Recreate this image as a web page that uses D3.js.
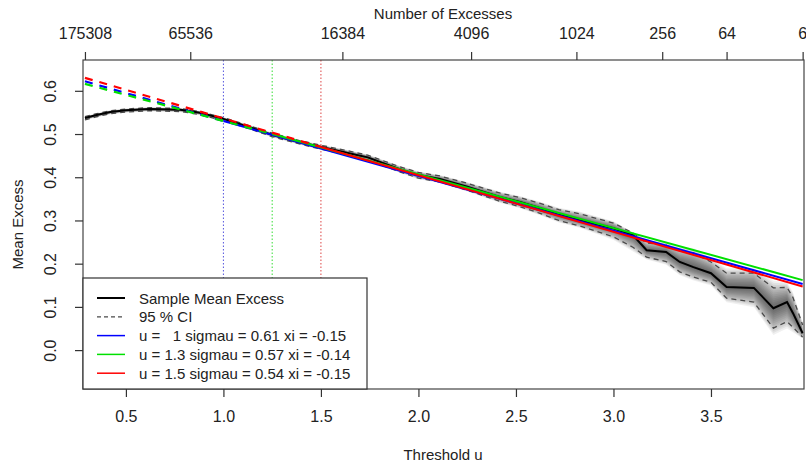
<!DOCTYPE html>
<html>
<head>
<meta charset="utf-8">
<script src="https://cdn.jsdelivr.net/npm/d3@7"></script>
<style>
  body { margin: 0; background: #fff; }
  text { font-family: "Liberation Sans", Arial, sans-serif; fill: #222; }
</style>
</head>
<body>
<script>
var svg_width = 806;
var svg_height = 468;

// threshold grid with sample mean excess and 95% CI
var thresholds = [0.29, 0.35, 0.42, 0.50, 0.62, 0.78, 0.88, 1.00, 1.12, 1.25, 1.39, 1.50, 1.62, 1.74, 1.90, 2.00, 2.11, 2.25, 2.42, 2.52, 2.62, 2.72, 2.83, 3.00, 3.10, 3.17, 3.27, 3.34, 3.41, 3.50, 3.58, 3.72, 3.82, 3.89, 3.92, 3.97];
var meanExcess = [0.537, 0.544, 0.551, 0.555, 0.558, 0.556, 0.549, 0.535, 0.518, 0.498, 0.481, 0.470, 0.458, 0.446, 0.419, 0.405, 0.396, 0.378, 0.354, 0.343, 0.329, 0.313, 0.300, 0.282, 0.266, 0.231, 0.227, 0.204, 0.192, 0.178, 0.146, 0.144, 0.097, 0.111, 0.086, 0.039];
var ciLower = [0.533, 0.540, 0.547, 0.551, 0.554, 0.552, 0.545, 0.531, 0.514, 0.494, 0.477, 0.465, 0.453, 0.440, 0.413, 0.398, 0.389, 0.370, 0.344, 0.332, 0.317, 0.300, 0.287, 0.262, 0.238, 0.215, 0.205, 0.181, 0.169, 0.157, 0.120, 0.111, 0.051, 0.066, 0.053, 0.030];
var ciUpper = [0.540, 0.547, 0.554, 0.558, 0.561, 0.559, 0.552, 0.538, 0.521, 0.502, 0.485, 0.474, 0.463, 0.451, 0.425, 0.411, 0.403, 0.386, 0.363, 0.353, 0.340, 0.325, 0.315, 0.294, 0.271, 0.248, 0.243, 0.229, 0.225, 0.204, 0.178, 0.178, 0.144, 0.145, 0.122, 0.058];

// fitted GPD mean excess lines: [start, threshold, end]
var fitU = [1.0, 1.25, 1.5];
var fitColors = ['#0000ff', '#00e000', '#ff0000'];
var markColors = ['#5555dd', '#33dd33', '#dd4444'];
var fitLines = [
  [[0.29, 0.622], [1.0, 0.530], [3.97, 0.153]],
  [[0.29, 0.616], [1.25, 0.500], [3.97, 0.162]],
  [[0.29, 0.630], [1.5, 0.470], [3.97, 0.147]]
];
var fitLabels = ['u =   1 sigmau = 0.61 xi = -0.15', 'u = 1.3 sigmau = 0.57 xi = -0.14', 'u = 1.5 sigmau = 0.54 xi = -0.15'];

var xTicks = [0.5, 1.0, 1.5, 2.0, 2.5, 3.0, 3.5];
var yTicks = [0.0, 0.1, 0.2, 0.3, 0.4, 0.5, 0.6];
var excessLabels = [175308, 65536, 16384, 4096, 1024, 256, 64, 6];
var excessAtU = [0.29, 0.83, 1.61, 2.27, 2.81, 3.25, 3.58, 3.97];

var plotLeft = 83, plotRight = 804, plotTop = 60, plotBottom = 389;

var svg = d3.select('body').append('svg')
    .attr('width', svg_width)
    .attr('height', svg_height);

var xscale = d3.scaleLinear().domain([0.28, 3.977]).range([plotLeft, plotRight]);
var yscale = d3.scaleLinear().domain([-0.09, 0.6713]).range([plotBottom, plotTop]);

svg.append('clipPath').attr('id', 'plot')
  .append('rect').attr('x', plotLeft).attr('y', plotTop)
  .attr('width', plotRight - plotLeft).attr('height', plotBottom - plotTop);

var g = svg.append('g').attr('clip-path', 'url(#plot)');

var rows = thresholds.map(function(u, i) {
  return { u: u, m: meanExcess[i], lo: ciLower[i], hi: ciUpper[i] };
});

// shaded CI density, darker towards the mean
var nBands = 14;
for (var k = nBands; k >= 1; k--) {
  var f = 1.35 * k / nBands;
  var band = d3.area()
    .x(function(d) { return xscale(d.u); })
    .y0(function(d) { return yscale(d.m + f * (d.lo - d.m)); })
    .y1(function(d) { return yscale(d.m + f * (d.hi - d.m)); });
  g.append('path').datum(rows)
    .attr('d', band)
    .attr('fill', '#000')
    .attr('fill-opacity', 0.06);
}

var line = d3.line()
  .x(function(d) { return xscale(d[0]); })
  .y(function(d) { return yscale(d[1]); });

// threshold markers
fitU.forEach(function(u, i) {
  g.append('line')
    .attr('x1', xscale(u)).attr('x2', xscale(u))
    .attr('y1', plotTop).attr('y2', plotBottom)
    .attr('stroke', markColors[i])
    .attr('stroke-width', 1)
    .attr('stroke-dasharray', '1.5,2');
});

// CI bounds
[ciLower, ciUpper].forEach(function(arr) {
  g.append('path')
    .datum(thresholds.map(function(u, i) { return [u, arr[i]]; }))
    .attr('d', line)
    .attr('fill', 'none')
    .attr('stroke', '#4a4a4a')
    .attr('stroke-width', 1.3)
    .attr('stroke-dasharray', '5,4');
});

// sample mean excess
g.append('path')
  .datum(thresholds.map(function(u, i) { return [u, meanExcess[i]]; }))
  .attr('d', line)
  .attr('fill', 'none')
  .attr('stroke', '#000')
  .attr('stroke-width', 2);

// fitted lines: dashed below threshold, solid above
fitLines.forEach(function(pts, i) {
  g.append('path').datum(pts.slice(0, 2))
    .attr('d', line).attr('fill', 'none')
    .attr('stroke', fitColors[i]).attr('stroke-width', 2.2)
    .attr('stroke-dasharray', '8,7');
  g.append('path').datum(pts.slice(1))
    .attr('d', line).attr('fill', 'none')
    .attr('stroke', fitColors[i]).attr('stroke-width', 2);
});

// box
svg.append('rect')
  .attr('x', plotLeft).attr('y', plotTop)
  .attr('width', plotRight - plotLeft).attr('height', plotBottom - plotTop)
  .attr('fill', 'none').attr('stroke', '#444').attr('stroke-width', 1.2);

// axes
var xaxis = d3.axisBottom(xscale).tickValues(xTicks).tickFormat(d3.format('.1f')).tickSize(8).tickPadding(14);
var yaxis = d3.axisLeft(yscale).tickValues(yTicks).tickFormat(d3.format('.1f')).tickSize(8);
var topaxis = d3.axisTop(xscale).tickValues(excessAtU)
  .tickFormat(function(d, i) { return excessLabels[i]; }).tickSize(8).tickPadding(13);

var gx = svg.append('g').attr('transform', 'translate(0,' + plotBottom + ')').call(xaxis);
var gy = svg.append('g').attr('transform', 'translate(' + plotLeft + ',0)').call(yaxis);
var gt = svg.append('g').attr('transform', 'translate(0,' + plotTop + ')').call(topaxis);

[gx, gy, gt].forEach(function(a) {
  a.select('.domain').remove();
  a.selectAll('line').attr('stroke', '#333').attr('stroke-width', 1.2);
  a.selectAll('text').style('font-size', '16px').attr('fill', '#222')
    .style('font-family', '"Liberation Sans", Arial, sans-serif');
});

// last top label sits against the right edge
gt.selectAll('.tick text').filter(function(d, i) { return i === excessLabels.length - 1; })
  .attr('text-anchor', 'end').attr('x', 4);

gy.selectAll('.tick text')
  .attr('x', 0).attr('y', 0).attr('dy', 0)
  .attr('text-anchor', 'middle')
  .attr('transform', 'translate(-27,0) rotate(-90)');

svg.append('text').attr('x', 443).attr('y', 19)
  .attr('text-anchor', 'middle').style('font-size', '15px').text('Number of Excesses');
svg.append('text').attr('x', 443).attr('y', 460)
  .attr('text-anchor', 'middle').style('font-size', '15px').text('Threshold u');
svg.append('text')
  .attr('transform', 'translate(23,' + ((plotTop + plotBottom) / 2) + ') rotate(-90)')
  .attr('text-anchor', 'middle').style('font-size', '15px').text('Mean Excess');

// legend
var leg = svg.append('g');
leg.append('rect')
  .attr('x', plotLeft).attr('y', 278).attr('width', 367 - plotLeft).attr('height', plotBottom - 278)
  .attr('fill', '#fff').attr('stroke', '#333').attr('stroke-width', 1.2);

var legItems = [
  { label: 'Sample Mean Excess', color: '#000', width: 2, dash: null },
  { label: '95 % CI', color: '#4a4a4a', width: 1.3, dash: '4,3' }
].concat(fitLabels.map(function(l, i) {
  return { label: l, color: fitColors[i], width: 1.5, dash: null };
}));

legItems.forEach(function(it, i) {
  var yy = 298 + i * 18.8;
  leg.append('line')
    .attr('x1', 97).attr('x2', 125).attr('y1', yy).attr('y2', yy)
    .attr('stroke', it.color).attr('stroke-width', it.width)
    .attr('stroke-dasharray', it.dash);
  leg.append('text')
    .attr('x', 139).attr('y', yy + 5.5)
    .style('font-size', '15px')
    .style('white-space', 'pre')
    .text(it.label);
});
</script>
</body>
</html>
